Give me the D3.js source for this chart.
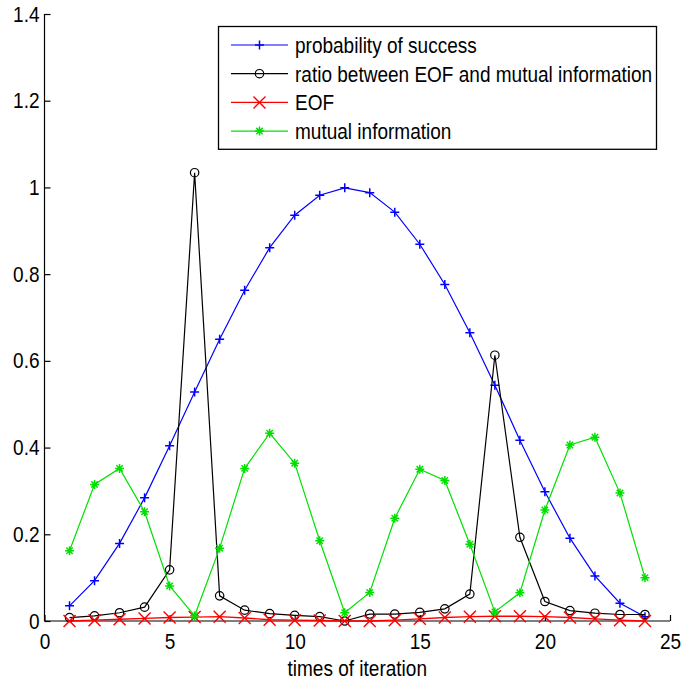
<!DOCTYPE html>
<html>
<head>
<meta charset="utf-8">
<script src="https://cdn.jsdelivr.net/npm/d3@7"></script>
<style>
  html, body { margin: 0; padding: 0; background: #fff; }
  svg text { font-family: "Liberation Sans", Arial, Helvetica, sans-serif; fill: #000; }
</style>
</head>
<body>
<svg id="chart" width="681" height="686"></svg>
<script>
// Iteration index
const iterations = d3.range(1, 25);

// Series values per iteration
const probabilitySuccess = [0.035, 0.093, 0.179, 0.284, 0.404, 0.528, 0.650, 0.763, 0.861, 0.936, 0.982, 0.999,
                            0.988, 0.943, 0.869, 0.776, 0.665, 0.544, 0.417, 0.298, 0.191, 0.104, 0.041, 0.010];
const ratioEofMI = [0.008, 0.012, 0.019, 0.032, 0.118, 1.034, 0.058, 0.025, 0.017, 0.013, 0.010, 0.000,
                    0.016, 0.016, 0.020, 0.028, 0.062, 0.613, 0.193, 0.045, 0.024, 0.018, 0.015, 0.015];
const eof = [0.000, 0.002, 0.004, 0.006, 0.008, 0.009, 0.010, 0.007, 0.003, 0.002, 0.001, 0.000,
             0.000, 0.002, 0.005, 0.008, 0.010, 0.011, 0.011, 0.010, 0.008, 0.005, 0.002, 0.000];
const mutualInfo = [0.162, 0.315, 0.352, 0.252, 0.081, 0.012, 0.168, 0.352, 0.433, 0.364, 0.185, 0.019,
                    0.066, 0.237, 0.350, 0.324, 0.177, 0.021, 0.065, 0.256, 0.406, 0.424, 0.295, 0.100];

// Axis ticks
const xTicks = [0, 5, 10, 15, 20, 25];
const yTicks = [0, 0.2, 0.4, 0.6, 0.8, 1, 1.2, 1.4];

const seriesNames = ["probability of success", "ratio between EOF and mutual information", "EOF", "mutual information"];
const seriesColors = ["#0000ff", "#000000", "#ff0000", "#00e000"];
const seriesMarkers = ["plus", "circle", "cross", "star"];
const seriesValues = [probabilitySuccess, ratioEofMI, eof, mutualInfo];

(function () {
  const svg = d3.select("#chart");
  const plotLeft = 44.5, plotRight = 670, plotTop = 14, plotBottom = 621;
  const fontSize = 22;
  const squeezeK = 0.865;   // horizontal condensing of all labels

  // Condense text horizontally around its own x position
  function squeeze(sel) {
    sel.each(function () {
      const t = d3.select(this);
      const tx = +(t.attr("x") || 0);
      t.attr("x", tx / squeezeK).attr("transform", `scale(${squeezeK},1)`);
    });
  }

  const x = d3.scaleLinear().domain([0, 25]).range([plotLeft, plotRight]);
  const y = d3.scaleLinear().domain([0, 1.4]).range([plotBottom, plotTop]);

  // Axes (ticks pointing inward, no box)
  const xAxis = d3.axisBottom(x).tickValues(xTicks).tickSize(-6).tickPadding(12).tickFormat(d3.format("d"));
  const yAxis = d3.axisLeft(y).tickValues(yTicks).tickSize(-6).tickPadding(5)
    .tickFormat(d => d === 0 || d === 1 ? String(d) : d3.format(".1f")(d));

  const gx = svg.append("g").attr("transform", `translate(0,${plotBottom})`).call(xAxis);
  const gy = svg.append("g").attr("transform", `translate(${plotLeft},0)`).call(yAxis);
  [gx, gy].forEach(g => {
    g.select(".domain").attr("stroke", "#000").attr("stroke-width", 1.2);
    g.selectAll(".tick line").attr("stroke", "#000").attr("stroke-width", 1.2);
    g.selectAll(".tick text").attr("font-size", fontSize).attr("font-family", null).call(squeeze);
  });
  gx.select(".domain").attr("d", `M${plotLeft},0H${plotRight}`);
  gy.select(".domain").attr("d", `M0,${plotBottom}V${plotTop}`);

  svg.append("text")
    .attr("x", (plotLeft + plotRight) / 2).attr("y", 676)
    .attr("text-anchor", "middle").attr("font-size", fontSize)
    .text("times of iteration").call(squeeze);

  // Marker shapes
  function markerPath(type) {
    switch (type) {
      case "plus": return "M-4.5,0H4.5M0,-4.5V4.5";
      case "cross": return "M-6,-6L6,6M-6,6L6,-6";
      case "star": return "M-4.5,0H4.5M0,-4.5V4.5M-3.2,-3.2L3.2,3.2M-3.2,3.2L3.2,-3.2";
      default: return null;
    }
  }
  function drawMarker(g, type, color, cx, cy) {
    if (type === "circle") {
      g.append("circle").attr("cx", cx).attr("cy", cy).attr("r", 4.2)
        .attr("fill", "none").attr("stroke", color).attr("stroke-width", 1.2);
    } else {
      g.append("path").attr("transform", `translate(${cx},${cy})`).attr("d", markerPath(type))
        .attr("fill", "none").attr("stroke", color).attr("stroke-width", type === "cross" ? 1.4 : 1.5);
    }
  }

  const line = d3.line().x((d, i) => x(iterations[i])).y(d => y(d));

  // Series drawn in order: probability, ratio, EOF, mutual information
  seriesValues.forEach((vals, s) => {
    const g = svg.append("g");
    g.append("path").attr("d", line(vals)).attr("fill", "none")
      .attr("stroke", seriesColors[s]).attr("stroke-width", s === 2 ? 1.4 : 1.2);
    vals.forEach((v, i) => drawMarker(g, seriesMarkers[s], seriesColors[s], x(iterations[i]), y(v)));
  });

  // Legend
  const lg = svg.append("g");
  lg.append("rect").attr("x", 218.5).attr("y", 26.5).attr("width", 438).attr("height", 122.8)
    .attr("fill", "#fff").attr("stroke", "#000").attr("stroke-width", 1.3);
  seriesNames.forEach((name, s) => {
    const ry = 45 + s * 28.7;
    lg.append("line").attr("x1", 231).attr("x2", 288).attr("y1", ry).attr("y2", ry)
      .attr("stroke", seriesColors[s]).attr("stroke-width", 1.2);
    drawMarker(lg, seriesMarkers[s], seriesColors[s], 259.5, ry);
    lg.append("text").attr("x", 295).attr("y", ry).attr("dy", "0.36em")
      .attr("font-size", fontSize).text(name).call(squeeze);
  });
})();
</script>
</body>
</html>
